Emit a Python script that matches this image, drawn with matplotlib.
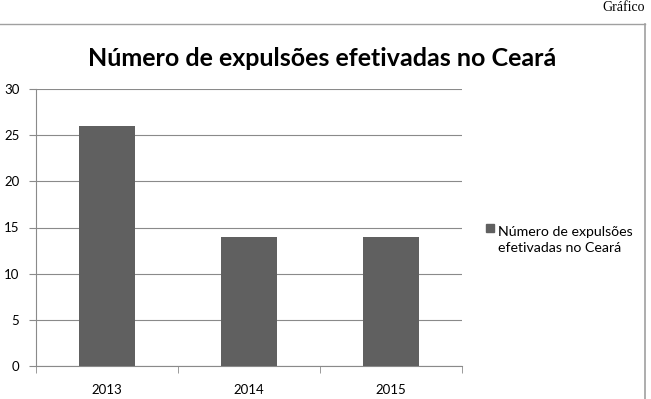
import matplotlib
matplotlib.use("Agg")
import matplotlib.pyplot as plt
from matplotlib.lines import Line2D
from matplotlib.patches import Rectangle

categories = ["2013", "2014", "2015"]
values = [26, 14, 14]
yticks = [0, 5, 10, 15, 20, 25, 30]
title = "Número de expulsões efetivadas no Ceará"
series_name = "Número de expulsões\nefetivadas no Ceará"
bar_color = "#606060"

plt.rcParams['font.family'] = ['Lato', 'DejaVu Sans']

fig = plt.figure(figsize=(6.51, 3.99), dpi=100)
W, H = 651, 399
ax = fig.add_axes([36/W, 1-366/H, (462-36)/W, (366-89)/H])

x = list(range(len(categories)))
ax.bar(x, values, width=0.4, color=bar_color, zorder=3)
ax.set_xlim(-0.5, len(categories)-0.5)
ax.set_ylim(0, 30)
ax.set_yticks(yticks)
ax.set_yticklabels([str(v) for v in yticks], fontsize=9.5)
ax.grid(axis='y', color="#8a8a8a", linewidth=0.8, zorder=0)
ax.set_xticks(x)
ax.set_xticklabels(categories, fontsize=9.5)
ax.set_xticks([i-0.5 for i in range(len(categories)+1)], minor=True)
ax.tick_params(axis='x', which='major', length=0, pad=13)
ax.tick_params(axis='x', which='minor', length=5, color="#8a8a8a")
ax.tick_params(axis='y', length=5, color="#8a8a8a", pad=7)
for s in ['top', 'right']:
    ax.spines[s].set_visible(False)
for s in ['left', 'bottom']:
    ax.spines[s].set_color("#8a8a8a")
    ax.spines[s].set_linewidth(0.8)

fig.text(322/W, 1-58/H, title, fontsize=18, fontweight='bold',
         ha='center', va='center')

# legend (handle aligned with first line, as in the reference)
fig.add_artist(Rectangle((486/W, 1-232/H), 8/W, 8/H, color=bar_color,
                         transform=fig.transFigure))
fig.text(498/W, 1-240/H, series_name, fontsize=10.2, ha='left', va='center',
         linespacing=1.45)

# page frame
fig.add_artist(Line2D([0, 645/W], [1-24/H, 1-24/H], color="#a0a0a0", linewidth=1))
fig.add_artist(Line2D([645/W, 645/W], [1-24/H, 0], color="#a0a0a0", linewidth=1.2))
fig.text(645/W, 1-1/H, "Gráfico", fontsize=10, family=['Liberation Serif'],
         ha='right', va='top')

fig.savefig("out.png", dpi=100)
